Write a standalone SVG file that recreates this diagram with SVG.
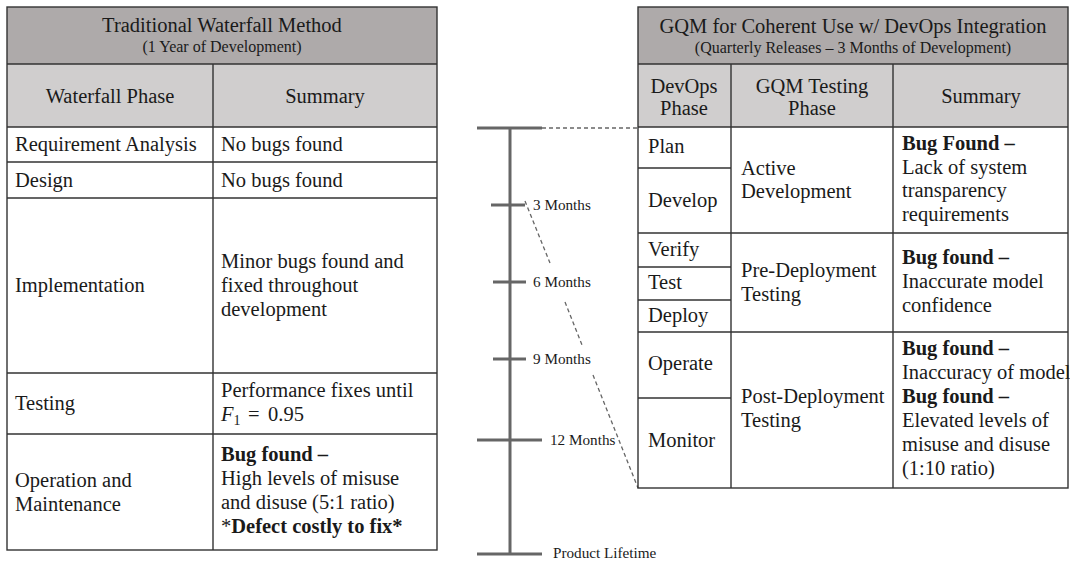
<svg xmlns="http://www.w3.org/2000/svg" width="1070" height="561" viewBox="0 0 1070 561">
  <style>
    text { font-family: "Liberation Serif", "Times New Roman", serif; fill: #1a1a1a; }
    .t { font-size: 20.5px; }
    .st { font-size: 16px; }
    .b { font-weight: bold; }
    .mid { text-anchor: middle; }
    .grid { stroke: #333; stroke-width: 1.4; fill: none; }
    .hd1 { fill: #aeaaaa; }
    .hd2 { fill: #d0cece; }
    .axis { stroke: #666; stroke-width: 3; fill: none; }
    .lbl { font-size: 15.2px; }
    .dash { stroke: #666; stroke-width: 1.3; stroke-dasharray: 4 3; fill: none; }
  </style>
  <rect width="1070" height="561" fill="#ffffff"/>

  <!-- Waterfall table -->
  <g id="waterfall-table">
    <rect class="hd1" x="7" y="7" width="430" height="57"/>
    <rect class="hd2" x="7" y="64" width="430" height="63"/>
    <rect class="grid" x="7" y="7" width="430" height="543"/>
    <path class="grid" d="M7 64H437M7 127H437M7 162H437M7 198H437M7 373H437M7 434H437M213 64V550"/>
    <text class="t mid" x="222" y="32">Traditional Waterfall Method</text>
    <text class="st mid" x="222" y="52">(1 Year of Development)</text>
    <text class="t mid" x="110" y="103">Waterfall Phase</text>
    <text class="t mid" x="325" y="103">Summary</text>
  </g>
  <g id="wf-requirements">
    <text class="t" x="15" y="151">Requirement Analysis</text>
    <text class="t" x="221" y="151">No bugs found</text>
  </g>
  <g id="wf-design">
    <text class="t" x="15" y="187">Design</text>
    <text class="t" x="221" y="187">No bugs found</text>
  </g>
  <g id="wf-implementation">
    <text class="t" x="15" y="292">Implementation</text>
    <text class="t" x="221" y="268">Minor bugs found and</text>
    <text class="t" x="221" y="292">fixed throughout</text>
    <text class="t" x="221" y="316">development</text>
  </g>
  <g id="wf-testing">
    <text class="t" x="15" y="410">Testing</text>
    <text class="t" x="221" y="397">Performance fixes until</text>
    <text class="t" x="221" y="421"><tspan font-style="italic">F</tspan><tspan font-size="14" dy="4">1</tspan><tspan x="248" dy="-4">=</tspan><tspan x="268">0.95</tspan></text>
  </g>
  <g id="wf-operation">
    <text class="t" x="15" y="487">Operation and</text>
    <text class="t" x="15" y="511">Maintenance</text>
    <text class="t b" x="221" y="461">Bug found –</text>
    <text class="t" x="221" y="485">High levels of misuse</text>
    <text class="t" x="221" y="509">and disuse (5:1 ratio)</text>
    <text class="t" x="221" y="533">*<tspan class="b">Defect costly to fix*</tspan></text>
  </g>

  <!-- Product timeline -->
  <g id="timeline">
    <path class="axis" d="M510 128V554M477 128H542M491 205H525M493 282H526M493 359H526M477 440H542M477 554H542"/>
    <text class="lbl" x="533" y="210">3 Months</text>
    <text class="lbl" x="533" y="287">6 Months</text>
    <text class="lbl" x="533" y="364">9 Months</text>
    <text class="lbl" x="550" y="445">12 Months</text>
    <text class="lbl" x="553" y="558">Product Lifetime</text>
  </g>

  <!-- Quarter bracket linking the timeline to the DevOps table -->
  <g id="connectors">
    <path class="dash" d="M542 128H638"/>
    <path class="dash" d="M525 201L550 263M565 302L582 345M593 375L638 488"/>
  </g>

  <!-- GQM / DevOps table -->
  <g id="gqm-table">
    <rect class="hd1" x="638" y="7" width="430" height="57"/>
    <rect class="hd2" x="638" y="64" width="430" height="63"/>
    <rect class="grid" x="638" y="7" width="430" height="481"/>
    <path class="grid" d="M638 64H1068M638 127H1068M638 233H1068M638 332H1068M638 168H731M638 267H731M638 300H731M638 398H731M731 64V488M893 64V488"/>
    <text class="t mid" x="853" y="33">GQM for Coherent Use w/ DevOps Integration</text>
    <text class="st mid" x="853" y="53">(Quarterly Releases – 3 Months of Development)</text>
    <text class="t mid" x="684" y="93">DevOps</text>
    <text class="t mid" x="684" y="115">Phase</text>
    <text class="t mid" x="812" y="93">GQM Testing</text>
    <text class="t mid" x="812" y="115">Phase</text>
    <text class="t mid" x="981" y="103">Summary</text>
  </g>
  <g id="gqm-active">
    <text class="t" x="648" y="153">Plan</text>
    <text class="t" x="648" y="207">Develop</text>
    <text class="t" x="741" y="175">Active</text>
    <text class="t" x="741" y="198">Development</text>
    <text class="t b" x="902" y="150">Bug Found –</text>
    <text class="t" x="902" y="174">Lack of system</text>
    <text class="t" x="902" y="197">transparency</text>
    <text class="t" x="902" y="221">requirements</text>
  </g>
  <g id="gqm-pre">
    <text class="t" x="648" y="256">Verify</text>
    <text class="t" x="648" y="289">Test</text>
    <text class="t" x="648" y="322">Deploy</text>
    <text class="t" x="741" y="277">Pre-Deployment</text>
    <text class="t" x="741" y="301">Testing</text>
    <text class="t b" x="902" y="264">Bug found –</text>
    <text class="t" x="902" y="288">Inaccurate model</text>
    <text class="t" x="902" y="312">confidence</text>
  </g>
  <g id="gqm-post">
    <text class="t" x="648" y="370">Operate</text>
    <text class="t" x="648" y="447">Monitor</text>
    <text class="t" x="741" y="403">Post-Deployment</text>
    <text class="t" x="741" y="427">Testing</text>
    <text class="t b" x="902" y="355">Bug found –</text>
    <text class="t" x="902" y="379">Inaccuracy of model</text>
    <text class="t b" x="902" y="403">Bug found –</text>
    <text class="t" x="902" y="427">Elevated levels of</text>
    <text class="t" x="902" y="451">misuse and disuse</text>
    <text class="t" x="902" y="475">(1:10 ratio)</text>
  </g>
</svg>
